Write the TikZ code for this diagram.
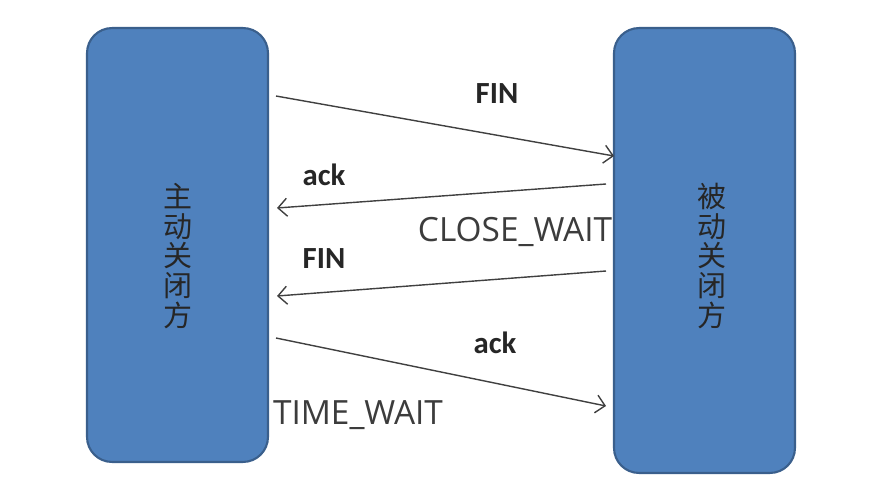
\documentclass[tikz,border=0pt]{standalone}
\usepackage{fontspec}
\newfontfamily\cjk{Noto Sans CJK SC}
\newfontfamily\lblfont{Carlito}
\newfontfamily\statefont{Open Sans}
\usetikzlibrary{positioning,arrows.meta}

\definecolor{boxblue}{HTML}{4F81BD}
\definecolor{boxline}{HTML}{3A5F8C}
\definecolor{arrowgrey}{HTML}{404040}
\definecolor{stategrey}{HTML}{3C3C3C}

\begin{document}
\begin{tikzpicture}[x=0.02cm, y=-0.02cm,
party/.style={draw=boxline, fill=boxblue, line width=1.2pt, rounded corners=0.5cm, inner sep=0pt},
msg/.style={draw=arrowgrey, line width=0.8pt, -{Straight Barb[length=1.8mm,width=3.6mm]}},
msglabel/.style={font=\lblfont\bfseries\fontsize{17.5}{18}\selectfont, text=black!85},
state/.style={font=\statefont\fontsize{19}{20}\selectfont, text=stategrey},
who/.style={font=\cjk\fontsize{16.5}{17}\selectfont, align=center, text=black!85}]

\useasboundingbox (0,0) rectangle (877,495);

\node[party, minimum width=3.62cm, minimum height=8.68cm] (active) at (177.5,245) {};
\node[party, minimum width=3.62cm, minimum height=8.9cm] (passive) at (704.5,250.5) {};

\node[who] (activetxt) at (178,256) {主\\动\\关\\闭\\方};
\node[who] (passivetxt) at (712,256) {被\\动\\关\\闭\\方};

\coordinate (a1) at (276,96);
\coordinate (b1) at (614,156);
\coordinate (b2) at (606,184);
\coordinate (a2) at (277,208);
\coordinate (b3) at (606,271);
\coordinate (a3) at (277,296);
\coordinate (a4) at (276,338);
\coordinate (b4) at (606,406);

\draw[msg] (a1) -- (b1);
\draw[msg] (b2) -- (a2);
\draw[msg] (b3) -- (a3);
\draw[msg] (a4) -- (b4);

\node[msglabel] (fin1) at (497,94) {FIN};
\node[msglabel] (ack1) at (324,175) {ack};
\node[msglabel] (fin2) at (324,259) {FIN};
\node[msglabel] (ack2) at (495,343) {ack};

\node[state] (closewait) at (515,232) {CLOSE\_WAIT};
\node[state] (timewait) at (358,415) {TIME\_WAIT};

\end{tikzpicture}
\end{document}
